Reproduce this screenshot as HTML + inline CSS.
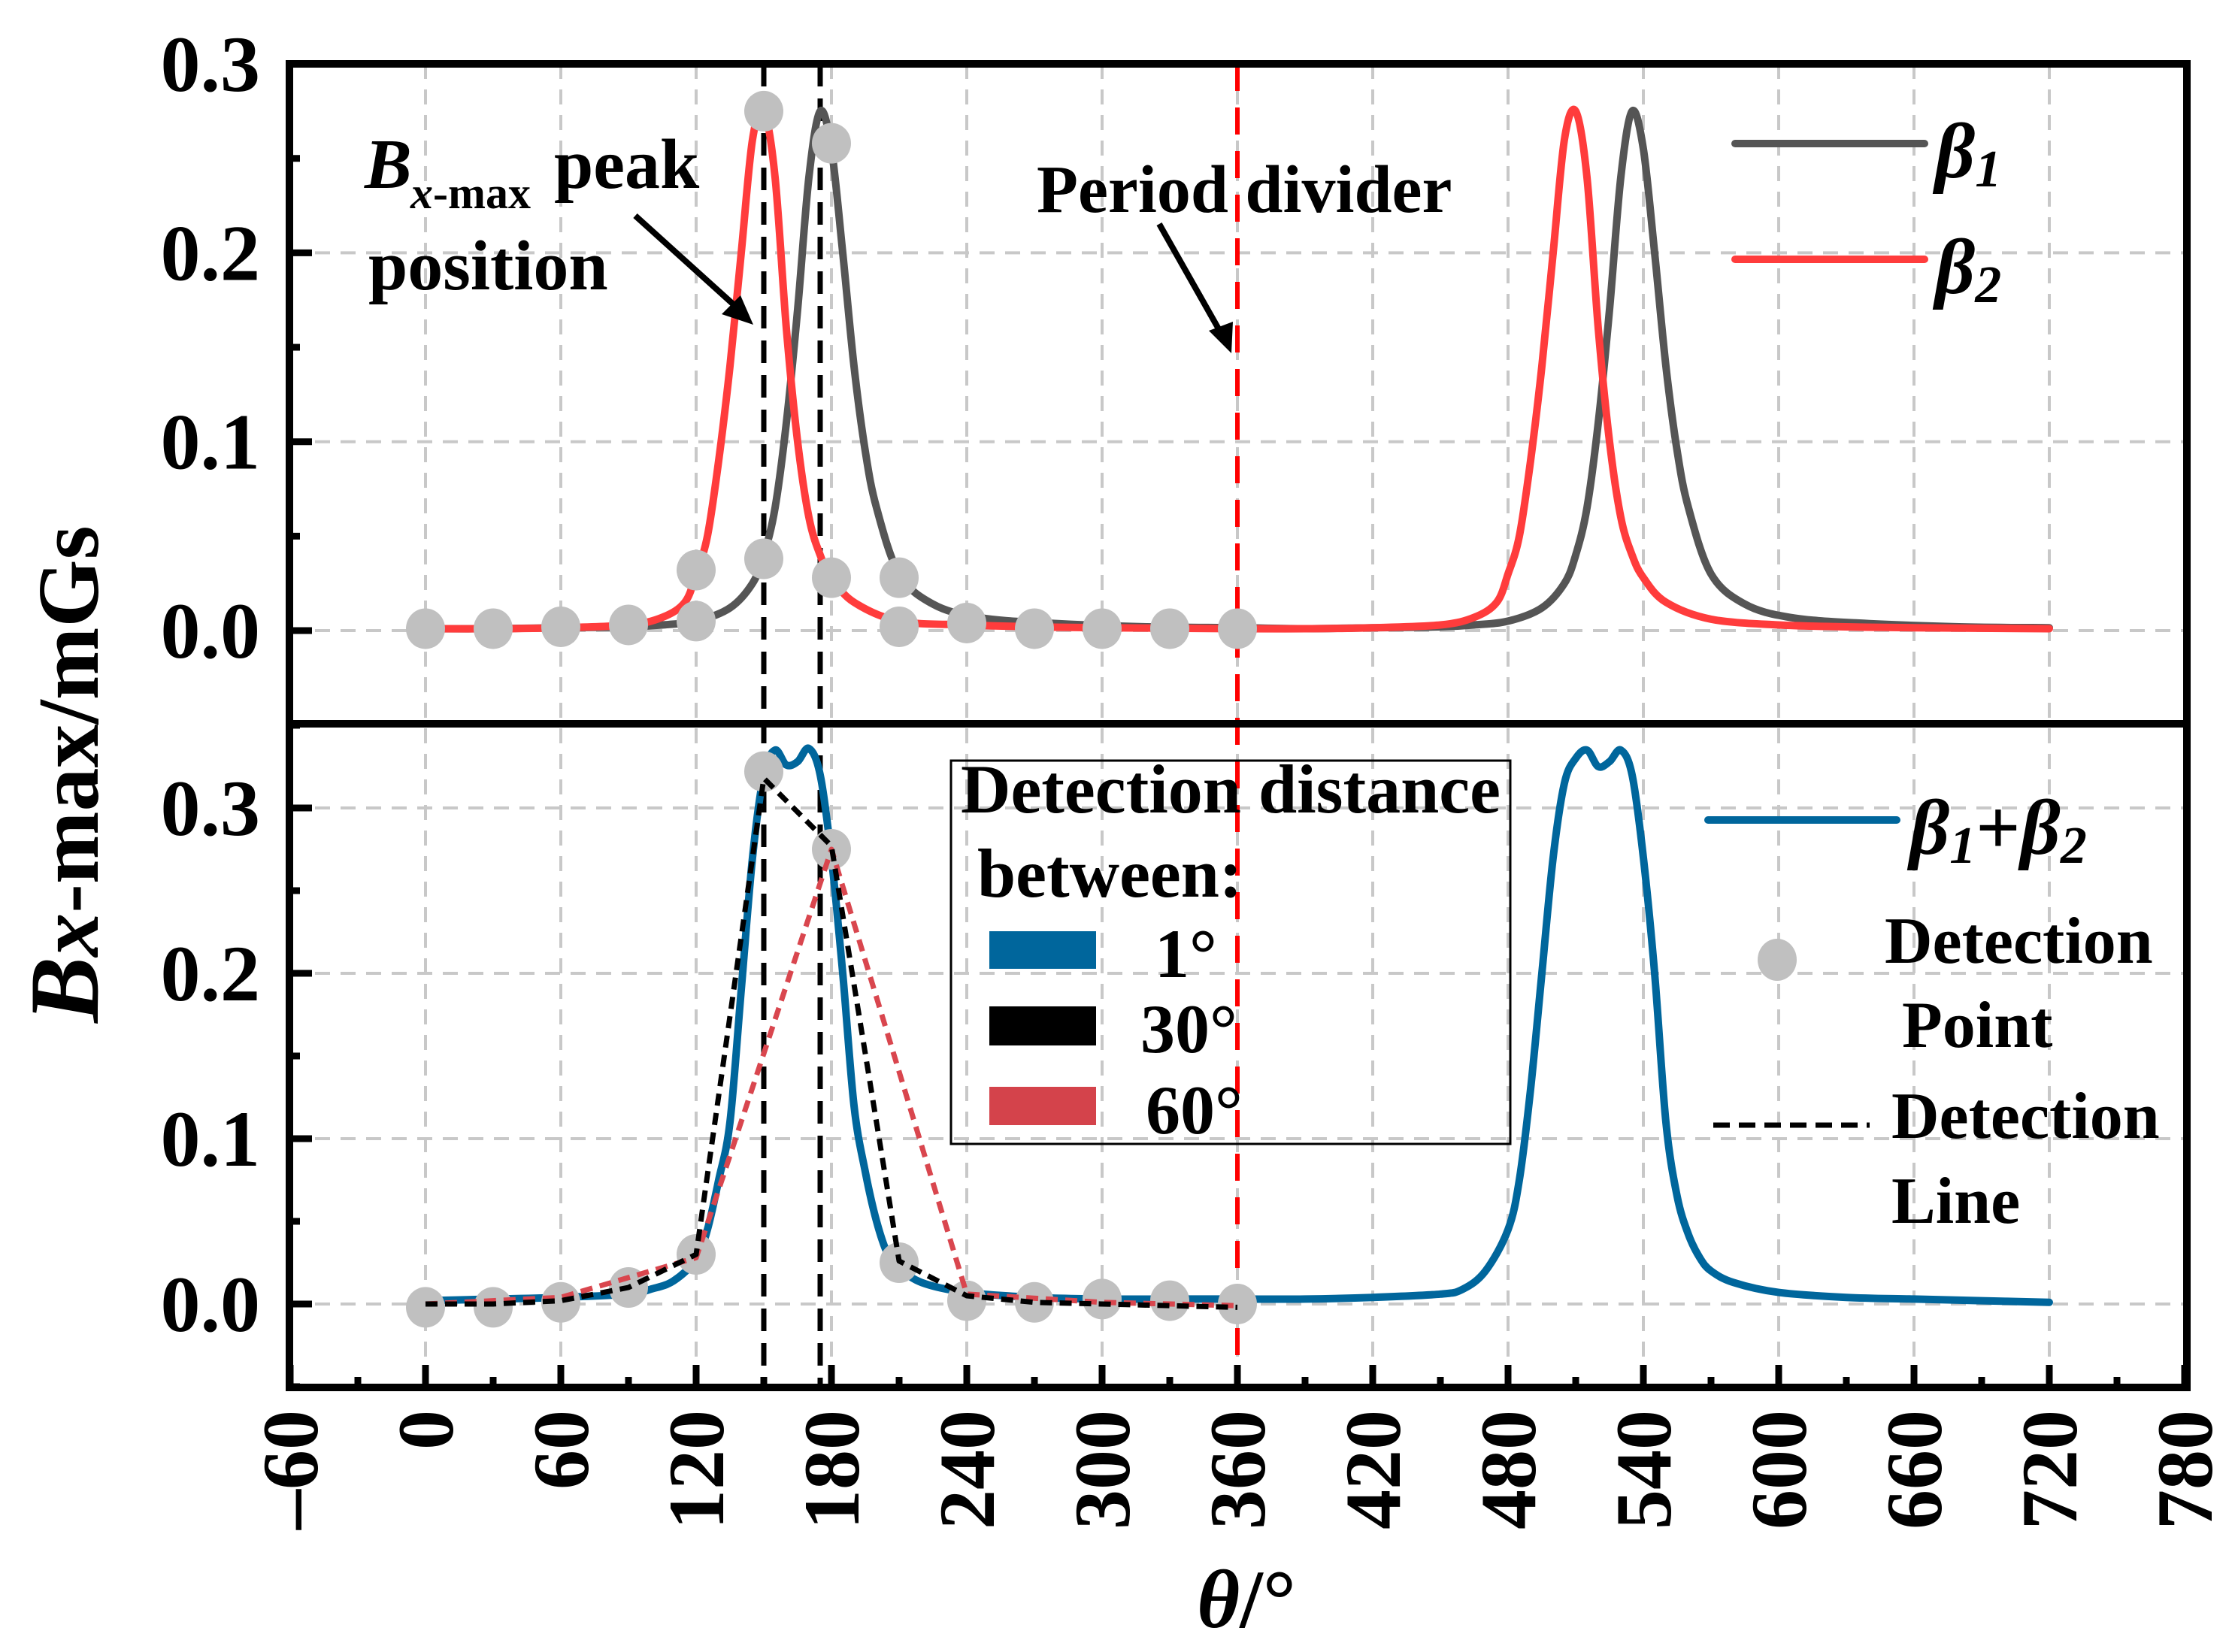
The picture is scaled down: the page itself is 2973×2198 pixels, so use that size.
<!DOCTYPE html>
<html><head><meta charset="utf-8">
<style>
html,body{margin:0;padding:0;background:#fff;}
svg{display:block;}
text{font-family:"Liberation Serif",serif;font-weight:bold;fill:#000;}
</style></head>
<body>
<svg id="chart" width="2973" height="2198" viewBox="0 0 2973 2198" xmlns="http://www.w3.org/2000/svg">
  <rect x="0" y="0" width="2973" height="2198" fill="#fff"/>
  <g id="grid"></g>
  <g id="refs"></g>
  <g id="series"></g>
  <g id="axes"></g>

  <g>
    <text x="485" y="250" font-size="94" font-style="italic">B</text>
    <text x="546" y="277" font-size="60"><tspan font-style="italic">x</tspan>-max</text>
    <text x="737" y="250" font-size="94">peak</text>
    <text x="490" y="385" font-size="94">position</text>
    <line x1="845" y1="287" x2="990" y2="418" stroke="#000" stroke-width="8"/>
    <polygon points="1002,432 960,418 985,393" fill="#000"/>
  </g>
  <g>
    <text x="1379" y="282" font-size="90">Period divider</text>
    <line x1="1542" y1="298" x2="1628" y2="450" stroke="#000" stroke-width="8"/>
    <polygon points="1638,470 1608,440 1640,428" fill="#000"/>
  </g>

  <g>
    <g>
      <line x1="2308" y1="191" x2="2560" y2="191" stroke="#555" stroke-width="10" stroke-linecap="round"/>
      <text x="2574" y="236" font-size="104" font-style="italic">β<tspan font-size="70" dy="12">1</tspan></text>
    </g>
    <g>
      <line x1="2308" y1="345" x2="2560" y2="345" stroke="#ff3c3c" stroke-width="10" stroke-linecap="round"/>
      <text x="2574" y="390" font-size="104" font-style="italic">β<tspan font-size="70" dy="12">2</tspan></text>
    </g>
  </g>
  <g>
    <g>
      <line x1="2272" y1="1091" x2="2523" y2="1091" stroke="#00669c" stroke-width="10" stroke-linecap="round"/>
      <text x="2540" y="1136" font-size="104" font-style="italic">β<tspan font-size="70" dy="12">1</tspan><tspan font-size="104" dy="-12" font-style="normal">+</tspan>β<tspan font-size="70" dy="12">2</tspan></text>
    </g>
    <g>
      <ellipse cx="2364" cy="1277" rx="26" ry="28" fill="#c0c0c0"/>
      <text x="2507" y="1281" font-size="88">Detection</text>
      <text x="2530" y="1393" font-size="88">Point</text>
    </g>
    <g>
      <line x1="2279" y1="1497" x2="2487" y2="1497" stroke="#000" stroke-width="7" stroke-dasharray="22,12"/>
      <text x="2516" y="1514" font-size="88">Detection</text>
      <text x="2516" y="1627" font-size="88">Line</text>
    </g>
  </g>
  <g>
    <rect x="1265" y="1012" width="744" height="510" fill="none" stroke="#000" stroke-width="3"/>
    <text x="1278" y="1081" font-size="92">Detection distance</text>
    <text x="1300" y="1193" font-size="92">between:</text>
    <rect x="1316" y="1239" width="142" height="50" fill="#00669c"/>
    <text x="1536" y="1300" font-size="92">1°</text>
    <rect x="1316" y="1339" width="142" height="52" fill="#000"/>
    <text x="1517" y="1400" font-size="92">30°</text>
    <rect x="1316" y="1446" width="142" height="51" fill="#d4434b"/>
    <text x="1524" y="1508" font-size="92">60°</text>
  </g>

  <text transform="translate(130,1030) rotate(-90)" text-anchor="middle" font-size="132"><tspan font-style="italic">B</tspan><tspan font-style="italic" font-size="116">x</tspan><tspan font-size="116">-max/mGs</tspan></text>
  <text x="1658" y="2165" text-anchor="middle" font-size="110"><tspan font-style="italic">θ</tspan>/°</text>
</svg>
<script>
const thetaB1 = [0,30,60,90,105,120,135,145,150,155,160,165,170,175,180,185,190,195,200,210,225,245,275,320,360,390,420,450,465,480,495,505,510,515,520,525,530,535,540,545,550,555,560,570,585,605,635,680,720];
const valB1 = [0.001,0.001,0.0015,0.002,0.003,0.005,0.012,0.025,0.04,0.065,0.11,0.17,0.24,0.275,0.255,0.2,0.14,0.095,0.065,0.03,0.014,0.007,0.004,0.002,0.0015,0.001,0.0015,0.002,0.003,0.005,0.012,0.025,0.04,0.065,0.11,0.17,0.24,0.275,0.255,0.2,0.14,0.095,0.065,0.03,0.014,0.007,0.004,0.002,0.0015];
const thetaB2 = [0,30,60,90,105,115,120,125,130,135,140,145,150,155,160,165,170,175,180,190,210,240,270,300,360,390,420,450,465,475,480,485,490,495,500,505,510,515,520,525,530,535,540,550,570,600,630,660,720];
const valB2 = [0.001,0.001,0.0015,0.003,0.007,0.015,0.03,0.05,0.09,0.14,0.2,0.26,0.275,0.24,0.16,0.1,0.06,0.04,0.028,0.015,0.005,0.003,0.002,0.0015,0.001,0.001,0.0015,0.003,0.007,0.015,0.03,0.05,0.09,0.14,0.2,0.26,0.275,0.24,0.16,0.1,0.06,0.04,0.028,0.015,0.006,0.003,0.002,0.0015,0.001];
const thetaSum = [0,30,60,90,100,110,120,125,130,135,140,145,150,155,160,165,170,175,180,185,190,195,200,205,210,220,240,270,300,330,360,390,420,450,460,470,480,485,490,495,500,505,510,515,520,525,530,535,540,545,550,555,560,565,570,580,600,630,660,690,720];
const valSum = [0.002,0.003,0.004,0.006,0.009,0.014,0.027,0.045,0.075,0.11,0.19,0.27,0.32,0.335,0.326,0.328,0.336,0.32,0.27,0.2,0.12,0.08,0.05,0.03,0.022,0.013,0.007,0.004,0.003,0.003,0.003,0.003,0.004,0.006,0.009,0.02,0.045,0.075,0.13,0.2,0.27,0.315,0.33,0.335,0.325,0.328,0.335,0.32,0.27,0.2,0.11,0.065,0.042,0.028,0.02,0.013,0.007,0.004,0.003,0.002,0.001];
const ptTopTheta = [0,30,60,90,120,120,150,150,180,180,210,210,240,270,300,330,360];
const ptTopVal = [0.001,0.001,0.002,0.003,0.032,0.005,0.275,0.038,0.258,0.028,0.028,0.002,0.004,0.001,0.001,0.001,0.001];
const ptBotTheta = [0,30,60,90,120,150,180,210,240,270,300,330,360];
const ptBotVal = [-0.002,-0.002,0.001,0.01,0.03,0.322,0.275,0.025,0.002,0.001,0.003,0.002,0.0];
const line30Theta = [0,30,60,90,120,150,180,210,240,270,300,330,360];
const line30Val = [0.0,0.0,0.002,0.01,0.03,0.318,0.277,0.026,0.005,0.001,0.0,-0.001,-0.002];
const line60Theta = [0,60,120,180,240,300,360];
const line60Val = [0.0,0.004,0.028,0.275,0.006,0.001,-0.001];
const xTicks = [-60,0,60,120,180,240,300,360,420,480,540,600,660,720,780];
const yTicksTop = [0.0,0.1,0.2,0.3];
const yTicksBot = [0.0,0.1,0.2,0.3];
const peakLines = [150,175];
const dividerTheta = 360;

const L=385,R=2909,T=85,MID=963,B=1846;
function xS(t){return 566+t*3.0;}
function yTop(v){return 839-v*2513;}
function yBot(v){return 1735-v*2200;}
const NS='http://www.w3.org/2000/svg';
function mk(tag,attrs,parent){const e=document.createElementNS(NS,tag);for(const k in attrs)e.setAttribute(k,attrs[k]);parent.appendChild(e);return e;}
function smoothPath(xs,ys){
  let d='M'+xs[0].toFixed(1)+','+ys[0].toFixed(1);
  for(let i=0;i<xs.length-1;i++){
    const x0=xs[Math.max(i-1,0)],y0=ys[Math.max(i-1,0)],x1=xs[i],y1=ys[i],x2=xs[i+1],y2=ys[i+1],x3=xs[Math.min(i+2,xs.length-1)],y3=ys[Math.min(i+2,xs.length-1)];
    const c1x=x1+(x2-x0)/6,c1y=y1+(y2-y0)/6,c2x=x2-(x3-x1)/6,c2y=y2-(y3-y1)/6;
    d+=' C'+c1x.toFixed(1)+','+c1y.toFixed(1)+' '+c2x.toFixed(1)+','+c2y.toFixed(1)+' '+x2.toFixed(1)+','+y2.toFixed(1);
  }
  return d;
}
function linePath(xs,ys){return xs.map((x,i)=>(i?'L':'M')+x.toFixed(1)+','+ys[i].toFixed(1)).join(' ');}
const grid=document.getElementById('grid'),refs=document.getElementById('refs'),series=document.getElementById('series'),axes=document.getElementById('axes');

xTicks.forEach(t=>{
  if(t<=-60||t>=780)return;
  const g=mk('line',{x1:xS(t),x2:xS(t),y1:T,y2:B,stroke:'#c8c8c8','stroke-width':4,'stroke-dasharray':'20,14'},grid);
  
  
});
yTicksTop.forEach(v=>{
  const g=mk('line',{x1:L,x2:R,y1:yTop(v),y2:yTop(v),stroke:'#c8c8c8','stroke-width':4,'stroke-dasharray':'20,14'},grid);
  
  
});
yTicksBot.forEach(v=>{
  const g=mk('line',{x1:L,x2:R,y1:yBot(v),y2:yBot(v),stroke:'#c8c8c8','stroke-width':4,'stroke-dasharray':'20,14'},grid);
  
  
});

peakLines.forEach(t=>{
  const l=mk('line',{x1:xS(t),x2:xS(t),y1:T,y2:B,stroke:'#000','stroke-width':7,'stroke-dasharray':'30,16'},refs);
  
  
});
const dv=mk('line',{x1:xS(dividerTheta),x2:xS(dividerTheta),y1:T,y2:B,stroke:'#ff0000','stroke-width':6,'stroke-dasharray':'36,22'},refs);



const pB1=mk('path',{d:smoothPath(thetaB1.map(xS),valB1.map(yTop)),fill:'none',stroke:'#555','stroke-width':10,'stroke-linejoin':'round','stroke-linecap':'round'},series);


const pB2=mk('path',{d:smoothPath(thetaB2.map(xS),valB2.map(yTop)),fill:'none',stroke:'#ff3c3c','stroke-width':10,'stroke-linejoin':'round','stroke-linecap':'round'},series);


ptTopTheta.forEach((t,i)=>{
  const c=mk('ellipse',{cx:xS(t),cy:yTop(ptTopVal[i]),rx:26,ry:27,fill:'#c0c0c0'},series);
  
  
});
const pS=mk('path',{d:smoothPath(thetaSum.map(xS),valSum.map(yBot)),fill:'none',stroke:'#00669c','stroke-width':10,'stroke-linejoin':'round','stroke-linecap':'round'},series);


ptBotTheta.forEach((t,i)=>{
  const c=mk('ellipse',{cx:xS(t),cy:yBot(ptBotVal[i]),rx:26,ry:27,fill:'#c0c0c0'},series);
  
  
});
const l60=mk('path',{d:linePath(line60Theta.map(xS),line60Val.map(yBot)),fill:'none',stroke:'#d9464e','stroke-width':7,'stroke-dasharray':'16,10','stroke-linejoin':'round'},series);


const l30=mk('path',{d:linePath(line30Theta.map(xS),line30Val.map(yBot)),fill:'none',stroke:'#000','stroke-width':7,'stroke-dasharray':'16,10','stroke-linejoin':'round'},series);



const fr=mk('rect',{x:L,y:T,width:R-L,height:B-T,fill:'none',stroke:'#000','stroke-width':10},axes);


const md=mk('line',{x1:L,x2:R,y1:MID,y2:MID,stroke:'#000','stroke-width':10},axes);



for(let t=-60;t<=780;t+=30){
  const major=(t%60===0);
  const tk=mk('line',{x1:xS(t),x2:xS(t),y1:B,y2:B-(major?30:14),stroke:'#000','stroke-width':9},axes);
  
  
}
xTicks.forEach(t=>{
  const x=xS(t)+36,y=1876;
  const tx=mk('text',{x:x,y:y,'text-anchor':'end','font-size':106,transform:'rotate(-90 '+x+' '+y+')'},axes);
  tx.textContent=String(t).replace('-','–');
  
  
});
for(let k=-1;k<=6;k++){
  const v=k*0.05;const y=yTop(v);if(y<T||y>MID)continue;
  const major=(k%2===0);
  const tk=mk('line',{x1:L,x2:L+(major?30:14),y1:y,y2:y,stroke:'#000','stroke-width':9},axes);
  
  
}
for(let k=-1;k<=7;k++){
  const v=k*0.05;const y=yBot(v);if(y<MID||y>B)continue;
  const major=(k%2===0);
  const tk=mk('line',{x1:L,x2:L+(major?30:14),y1:y,y2:y,stroke:'#000','stroke-width':9},axes);
  
  
}
yTicksTop.forEach(v=>{
  const tx=mk('text',{x:346,y:yTop(v)+36,'text-anchor':'end','font-size':106},axes);
  tx.textContent=v.toFixed(1);
  
  
});
yTicksBot.forEach(v=>{
  const tx=mk('text',{x:346,y:yBot(v)+36,'text-anchor':'end','font-size':106},axes);
  tx.textContent=v.toFixed(1);
  
  
});
</script>
</body></html>
